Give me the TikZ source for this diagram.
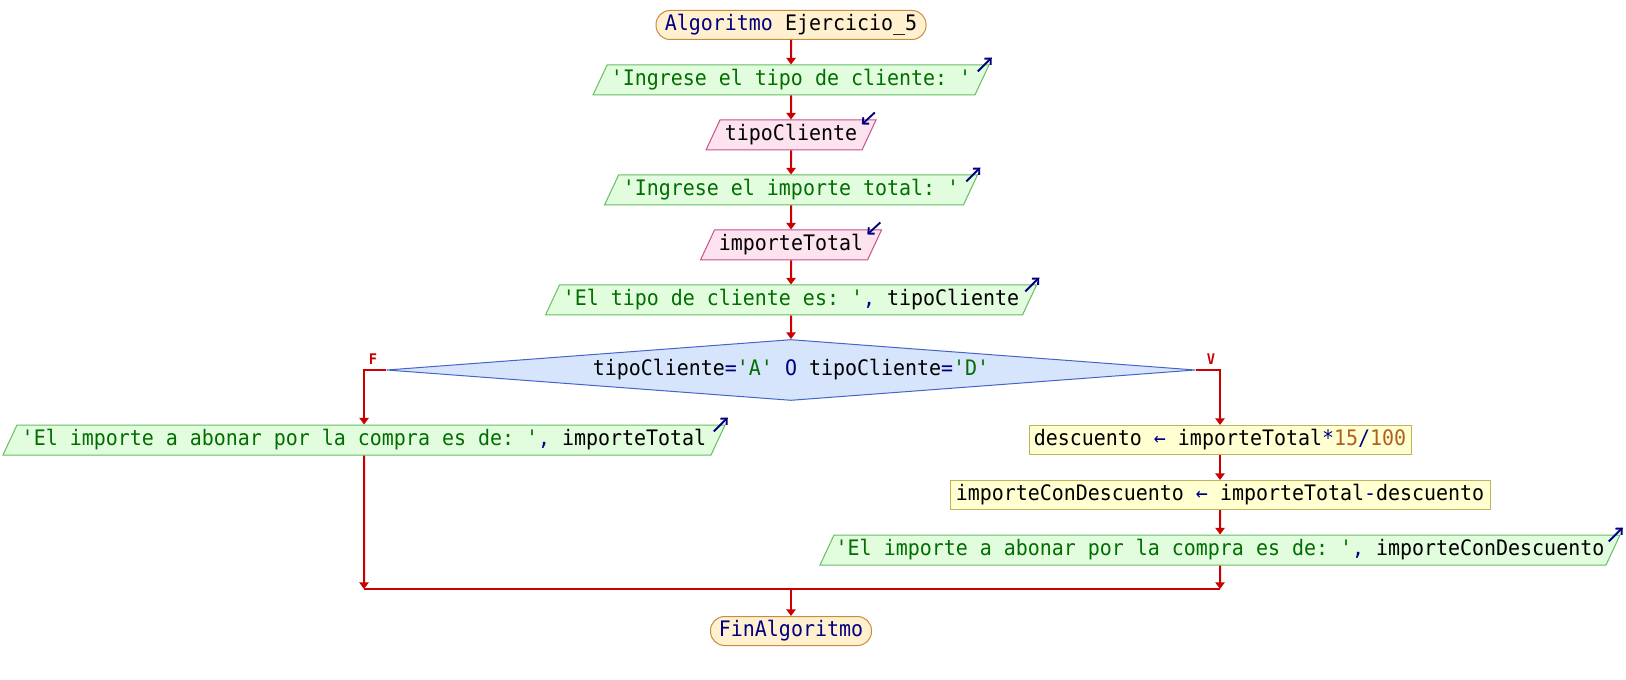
\documentclass[tikz,border=0pt]{standalone}
\usepackage{fontspec}
\setmonofont[FakeStretch=0.935]{DejaVu Sans Mono}
\usetikzlibrary{shapes.geometric,arrows.meta}

% colours of the flowchart
\definecolor{lnred}{RGB}{204,0,0}
\definecolor{kwc}{RGB}{0,0,128}
\definecolor{strc}{RGB}{0,110,0}
\definecolor{numc}{RGB}{176,96,32}
\definecolor{termfill}{RGB}{255,241,208}
\definecolor{termdraw}{RGB}{200,140,60}
\definecolor{outfill}{RGB}{226,252,222}
\definecolor{outdraw}{RGB}{100,190,100}
\definecolor{infill}{RGB}{253,226,240}
\definecolor{indraw}{RGB}{200,80,140}
\definecolor{decfill}{RGB}{214,228,252}
\definecolor{decdraw}{RGB}{70,100,200}
\definecolor{asgfill}{RGB}{255,255,210}
\definecolor{asgdraw}{RGB}{190,180,90}

% pixel lengths (1px = 0.75pt)
\newcommand{\pxl}[1]{#1*0.75pt}
% syntax colouring
\newcommand{\kwd}[1]{\textcolor{kwc}{#1}}
\newcommand{\strg}[1]{\textcolor{strc}{#1}}
\newcommand{\numb}[1]{\textcolor{numc}{#1}}
\newcommand{\oper}[1]{\textcolor{kwc}{#1}}
\newcommand{\sq}{\char39\relax}

\tikzset{
  base/.style={font=\ttfamily\fontsize{16}{19}\selectfont, inner sep=0pt,
    line width=0.75pt, text=black},
  term/.style={base, rectangle, rounded corners=\pxl{14}, draw=termdraw,
    fill=termfill, minimum height=\pxl{29}},
  io/.style={base, trapezium, trapezium left angle=56, trapezium right angle=124,
    trapezium stretches body, minimum height=\pxl{30}},
  outbox/.style={io, draw=outdraw, fill=outfill},
  inbox/.style={io, draw=indraw, fill=infill},
  decbox/.style={base, diamond, aspect=13, draw=decdraw, fill=decfill},
  asgbox/.style={base, rectangle, draw=asgdraw, fill=asgfill, minimum height=\pxl{29}},
  flow/.style={draw=lnred, line width=1.5pt, -{Triangle[length=5pt,width=7pt]}},
  link/.style={draw=lnred, line width=1.5pt},
  ioicon/.style={draw=kwc, line width=1.4pt, -{Straight Barb[length=3.5pt,width=6.5pt]}},
  lbl/.style={text=lnred, font=\ttfamily\bfseries\fontsize{11}{13}\selectfont, inner sep=0pt},
}

\begin{document}
\begin{tikzpicture}[x=0.75pt,y=-0.75pt]
\fill[white] (0,0) rectangle (1626,680);
\useasboundingbox (0,0) rectangle (1626,680);

% main column
\node[term, minimum width=\pxl{270}] (start) at (791,25)
  {\kwd{Algoritmo} Ejercicio\_5};
\node[outbox, minimum width=\pxl{396}] (b1) at (791,80)
  {\strg{\sq Ingrese el tipo de cliente: \sq}};
\node[inbox, minimum width=\pxl{170}] (b2) at (791,135) {tipoCliente};
\node[outbox, minimum width=\pxl{373}] (b3) at (791,190)
  {\strg{\sq Ingrese el importe total: \sq}};
\node[inbox, minimum width=\pxl{181}] (b4) at (791,245) {importeTotal};
\node[outbox, minimum width=\pxl{491}] (b5) at (791,300)
  {\strg{\sq El tipo de cliente es: \sq}\oper{,} tipoCliente};
\node[decbox, minimum width=\pxl{809}, minimum height=\pxl{61}] (dec) at (791,370)
  {tipoCliente\oper{=}\strg{\sq A\sq} \kwd{O} tipoCliente\oper{=}\strg{\sq D\sq}};

% false branch
\node[outbox, minimum width=\pxl{722}] (lo) at (364,440)
  {\strg{\sq El importe a abonar por la compra es de: \sq}\oper{,} importeTotal};

% true branch
\node[asgbox, minimum width=\pxl{382}] (a1) at (1220,440)
  {descuento \oper{←} importeTotal\oper{*}\numb{15}\oper{/}\numb{100}};
\node[asgbox, minimum width=\pxl{540}] (a2) at (1220,495)
  {importeConDescuento \oper{←} importeTotal\oper{-}descuento};
\node[outbox, minimum width=\pxl{800}] (ro) at (1220,550)
  {\strg{\sq El importe a abonar por la compra es de: \sq}\oper{,} importeConDescuento};

\node[term, minimum width=\pxl{161}] (fin) at (791,631) {\kwd{FinAlgoritmo}};

% branch labels
\node[lbl] (lf) at (373,359) {F};
\node[lbl] (lv) at (1211,359) {V};

% join points
\coordinate (jl) at (364,589);
\coordinate (jr) at (1220,589);
\coordinate (jm) at (791,589);

% connectors
\draw[flow] (start) -- (b1);
\draw[flow] (b1) -- (b2);
\draw[flow] (b2) -- (b3);
\draw[flow] (b3) -- (b4);
\draw[flow] (b4) -- (b5);
\draw[flow] (b5) -- (dec);
\draw[flow] (dec.west) -| (lo.north);
\draw[flow] (dec.east) -| (a1.north);
\draw[flow] (a1) -- (a2);
\draw[flow] (a2) -- (ro);
\draw[flow] (lo) -- (jl);
\draw[flow] (ro) -- (jr);
\draw[link] (jl) -- (jr);
\draw[flow] (jm) -- (fin);

% output / input marks
\foreach \n in {b1,b3,b5,lo,ro}
  \draw[ioicon] ([shift={(-12,7)}]\n.top right corner) -- ([shift={(2,-7)}]\n.top right corner);
\foreach \n in {b2,b4}
  \draw[ioicon] ([shift={(-2,-7)}]\n.top right corner) -- ([shift={(-15,5)}]\n.top right corner);
\end{tikzpicture}
\end{document}
